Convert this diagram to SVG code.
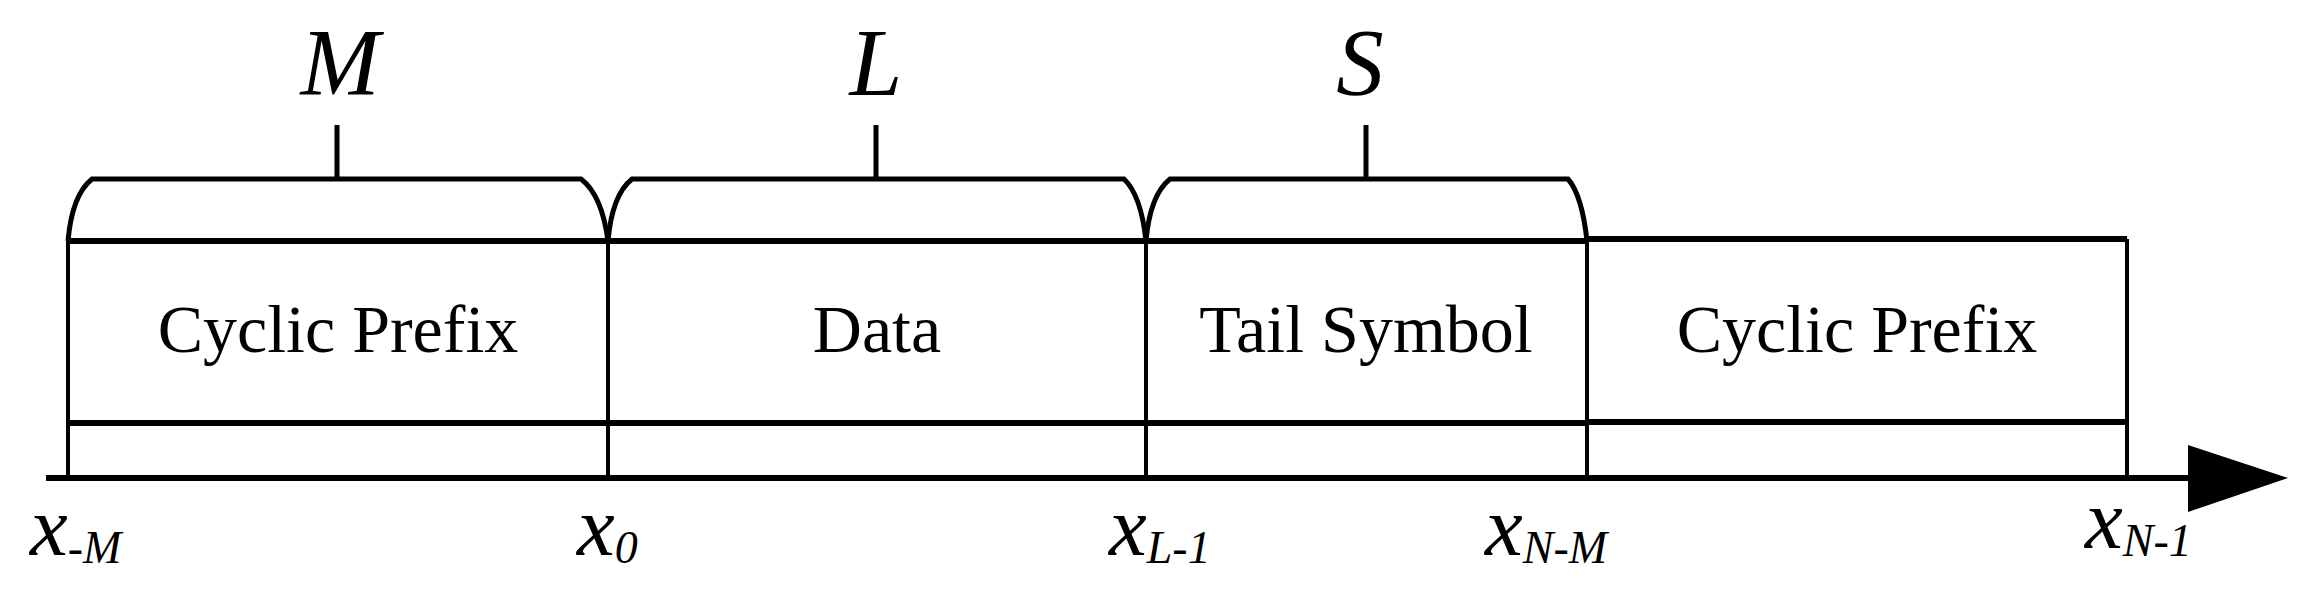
<svg xmlns="http://www.w3.org/2000/svg" width="2318" height="596" viewBox="0 0 2318 596">
<style>
.h{stroke:#000;stroke-width:6;fill:none}
.v{stroke:#000;stroke-width:4;fill:none}
.b{stroke:#000;stroke-width:5;fill:none}
.t{font-family:"Liberation Serif",serif;font-size:68px;text-anchor:middle}
.m{font-family:"Liberation Serif",serif;font-style:italic;font-size:95px;text-anchor:middle}
.x{font-family:"Liberation Serif",serif;font-style:italic;font-size:85px}
.s{font-size:46px}
</style>
<rect width="2318" height="596" fill="#fff"/>
<g id="connectors">
<line class="h" x1="46" y1="478" x2="2200" y2="478"/>
<polygon points="2188,445 2288,478 2188,512" fill="#000"/>
<line class="v" x1="68" y1="241" x2="68" y2="478"/>
<line class="v" x1="608" y1="241" x2="608" y2="478"/>
<line class="v" x1="1146" y1="241" x2="1146" y2="478"/>
<line class="v" x1="1587" y1="241" x2="1587" y2="478"/>
<line class="v" x1="2127" y1="239" x2="2127" y2="478"/>
</g>
<g id="brace-M"><path class="b" d="M68,241 Q72,195 92,179 L581,179 Q602,195 608,241 M337,125 V179"/><text class="m" x="340" y="95">M</text></g>
<g id="brace-L"><path class="b" d="M608,241 Q612,195 632,179 L1124,179 Q1141,195 1146,241 M876,125 V179"/><text class="m" x="876" y="95">L</text></g>
<g id="brace-S"><path class="b" d="M1146,241 Q1150,195 1170,179 L1568,179 Q1582,195 1587,241 M1366,125 V179"/><text class="m" x="1360" y="95">S</text></g>
<g id="cp1"><line class="h" x1="68" y1="241" x2="608" y2="241"/><line class="h" x1="68" y1="423" x2="608" y2="423"/><text class="t" x="338" y="352">Cyclic Prefix</text></g>
<g id="data"><line class="h" x1="608" y1="241" x2="1146" y2="241"/><line class="h" x1="608" y1="423" x2="1146" y2="423"/><text class="t" x="877" y="352">Data</text></g>
<g id="tail"><line class="h" x1="1146" y1="241" x2="1587" y2="241"/><line class="h" x1="1146" y1="423" x2="1587" y2="423"/><text class="t" x="1366" y="352">Tail Symbol</text></g>
<g id="cp2"><line class="h" x1="1587" y1="239" x2="2127" y2="239"/><line class="h" x1="1587" y1="422" x2="2127" y2="422"/><text class="t" x="1857" y="352">Cyclic Prefix</text></g>
<g id="labels">
<text class="x" x="30" y="555">x<tspan class="s" dy="8">-M</tspan></text>
<text class="x" x="577" y="555">x<tspan class="s" dy="8">0</tspan></text>
<text class="x" x="1109" y="555">x<tspan class="s" dy="8">L-1</tspan></text>
<text class="x" x="1485" y="555">x<tspan class="s" dy="8">N-M</tspan></text>
<text class="x" x="2085" y="548">x<tspan class="s" dy="8">N-1</tspan></text>
</g>
</svg>
